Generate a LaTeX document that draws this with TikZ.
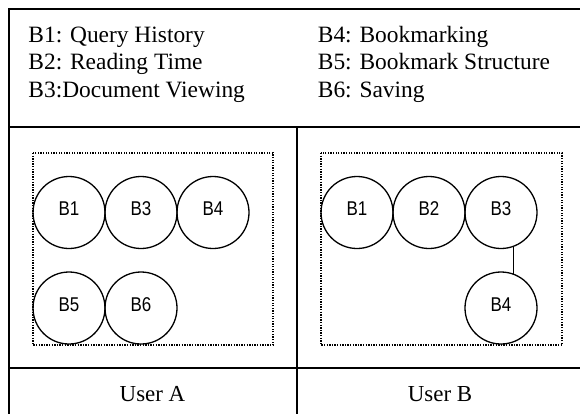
\documentclass[tikz,border=0pt]{standalone}
\usepackage{fontspec}
\setmainfont{Liberation Serif}
\newfontfamily\narrowsans[FakeStretch=0.85]{Liberation Sans}
\tikzset{
  frame/.style={line width=1.2bp},
  dotbox/.style={line width=1.4bp, dash pattern=on 1.3bp off 1.3bp},
  bub/.style={circle, draw, line width=1.3bp, minimum size=72bp, inner sep=0pt,
    font=\narrowsans\fontsize{20}{20}\selectfont, text height=14bp, text depth=8bp},
  legend/.style={anchor=base west, inner sep=0pt, font=\fontsize{23.5}{28}\selectfont},
  userlbl/.style={anchor=base, inner sep=0pt, font=\fontsize{23}{28}\selectfont},
  link/.style={line width=1.3bp}
}
\begin{document}
\begin{tikzpicture}[x=1bp,y=-1bp]
\useasboundingbox (0,0) rectangle (580,413);
\clip (0,0) rectangle (580,413);
\fill[white] (0,0) rectangle (580,413);
% frame
\draw[frame] (9,9) rectangle (600,440);
\draw[frame] (9,127) -- (600,127);
\draw[frame] (9,368) -- (600,368);
\draw[frame] (297,127) -- (297,440);
% legend
\node[legend] (l1) at (28.3,42) {B1: Query History};
\node[legend] (l2) at (28.3,69.5) {B2: Reading Time};
\node[legend] (l3) at (28.3,97) {B3:Document Viewing};
\node[legend] (l4) at (317.7,42) {B4: Bookmarking};
\node[legend] (l5) at (317.7,69.5) {B5: Bookmark Structure};
\node[legend] (l6) at (317.7,97) {B6: Saving};
% dotted boxes
\draw[dotbox] (33,153) rectangle (273,345);
\draw[dotbox] (321,153) rectangle (562,345);
% user A
\node[bub] (a1) at (69,212.5) {B1};
\node[bub] (a3) at (141,212.5) {B3};
\node[bub] (a4) at (213,212.5) {B4};
\node[bub] (a5) at (69,308) {B5};
\node[bub] (a6) at (141,308) {B6};
% user B
\node[bub] (b1) at (357,212.5) {B1};
\node[bub] (b2) at (429,212.5) {B2};
\node[bub] (b3) at (501,212.5) {B3};
\node[bub] (b4) at (501,308) {B4};
\draw[link] (b3.-70.5) -- (b4.70.5);
% user labels
\node[userlbl] (ua) at (152.5,401.7) {User A};
\node[userlbl] (ub) at (440,401.7) {User B};
\end{tikzpicture}
\end{document}
